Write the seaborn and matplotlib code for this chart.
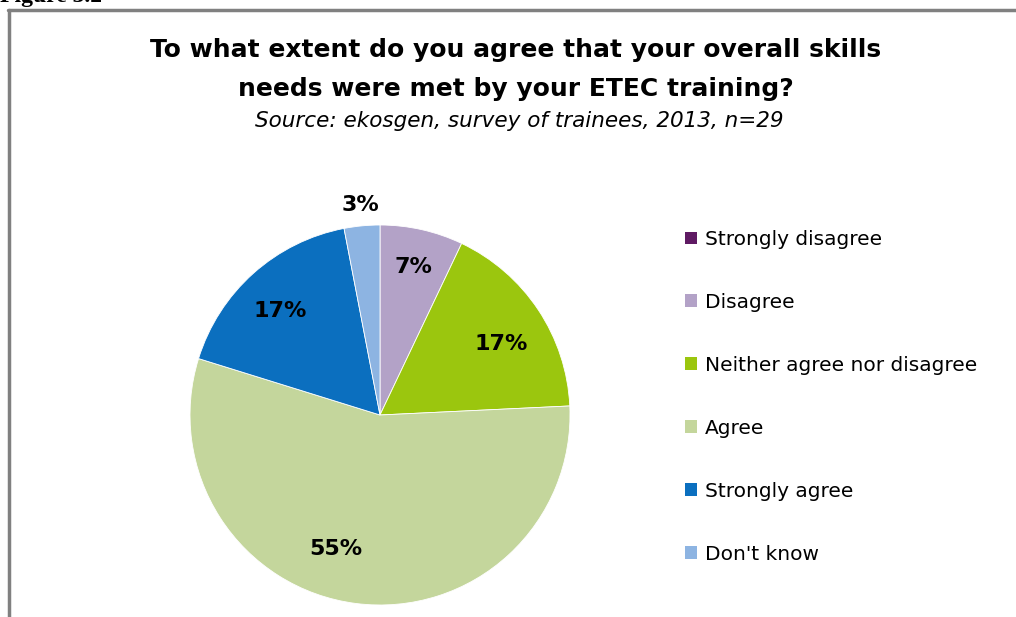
import matplotlib
matplotlib.use("Agg")
import matplotlib.pyplot as plt
from matplotlib.lines import Line2D
from matplotlib.patches import Patch
import numpy as np
import seaborn as sns

# Survey responses (percent of trainees, n=29)
categories = ["Strongly disagree", "Disagree", "Neither agree nor disagree",
              "Agree", "Strongly agree", "Don't know"]
percentages = [0, 7, 17, 55, 17, 3]
slice_colors = ["#5F1A63", "#B3A2C7", "#9BC60E", "#C4D69C", "#0B6FBF", "#8DB4E2"]

title_lines = ["To what extent do you agree that your overall skills",
               "needs were met by your ETEC training?"]
subtitle = "Source: ekosgen, survey of trainees, 2013, n=29"

sns.set_theme(style="white")
plt.rcParams["font.family"] = ["DejaVu Sans"]
plt.rcParams["text.color"] = "black"

W, H = 1016, 617
fig = plt.figure(figsize=(W / 100, H / 100), dpi=100)
fig.patch.set_facecolor("white")

# Outer frame (top and left edges visible)
frame_kw = dict(color="#808080", lw=2.5, transform=fig.transFigure)
fig.add_artist(Line2D([8 / W, 1.0], [1 - 10 / H, 1 - 10 / H], **frame_kw))
fig.add_artist(Line2D([9 / W, 9 / W], [1 - 10 / H, 0.0], **frame_kw))

# Figure caption sitting above the frame
fig.text(0 / W, 1 - 2 / H, "Figure 3.2", family="Liberation Serif",
         fontweight="bold", fontsize=17, ha="left", va="baseline")

# Titles
fig.text(516 / W, 1 - 50 / H, title_lines[0], ha="center", va="center",
         fontsize=18, fontweight="bold", color="black")
fig.text(516 / W, 1 - 89 / H, title_lines[1], ha="center", va="center",
         fontsize=18, fontweight="bold", color="black")
fig.text(519 / W, 1 - 121 / H, subtitle, ha="center", va="center",
         fontsize=15.5, style="italic", color="black")

# Pie axes: center (380, 415) px, radius 190 px
cx, cy, r = 380, 415, 190
ax = fig.add_axes([(cx - r) / W, 1 - (cy + r) / H, 2 * r / W, 2 * r / H])
wedges, _ = ax.pie(percentages, colors=slice_colors, startangle=90,
                   counterclock=False, radius=1.0,
                   wedgeprops=dict(linewidth=0.6, edgecolor="white"))
ax.set_xlim(-1, 1)
ax.set_ylim(-1, 1)
ax.set_aspect("equal")
ax.axis("off")

# Percentage labels, placed along each wedge's bisector
label_dist = [0.0, 0.80, 0.74, 0.74, 0.76, 1.11]
label_shift = [0.0, 0.0, -3.5, -11.0, 2.0, 0.0]
for w, pct, d, s in zip(wedges, percentages, label_dist, label_shift):
    if pct == 0:
        continue
    ang = np.deg2rad((w.theta1 + w.theta2) / 2 + s)
    ax.text(d * np.cos(ang), d * np.sin(ang), f"{pct}%", ha="center",
            va="center", fontsize=16, fontweight="bold", color="black")

# Legend
handles = [Patch(facecolor=c, edgecolor="none") for c in slice_colors]
leg = fig.legend(handles, categories, loc="upper left",
                 bbox_to_anchor=(675 / W, 1 - 220 / H), frameon=False,
                 fontsize=14.5, handlelength=0.6, handleheight=0.6,
                 handletextpad=0.4, labelspacing=2.18, borderpad=0)
for t in leg.get_texts():
    t.set_color("black")

fig.savefig("out.png", dpi=100, facecolor="white")
